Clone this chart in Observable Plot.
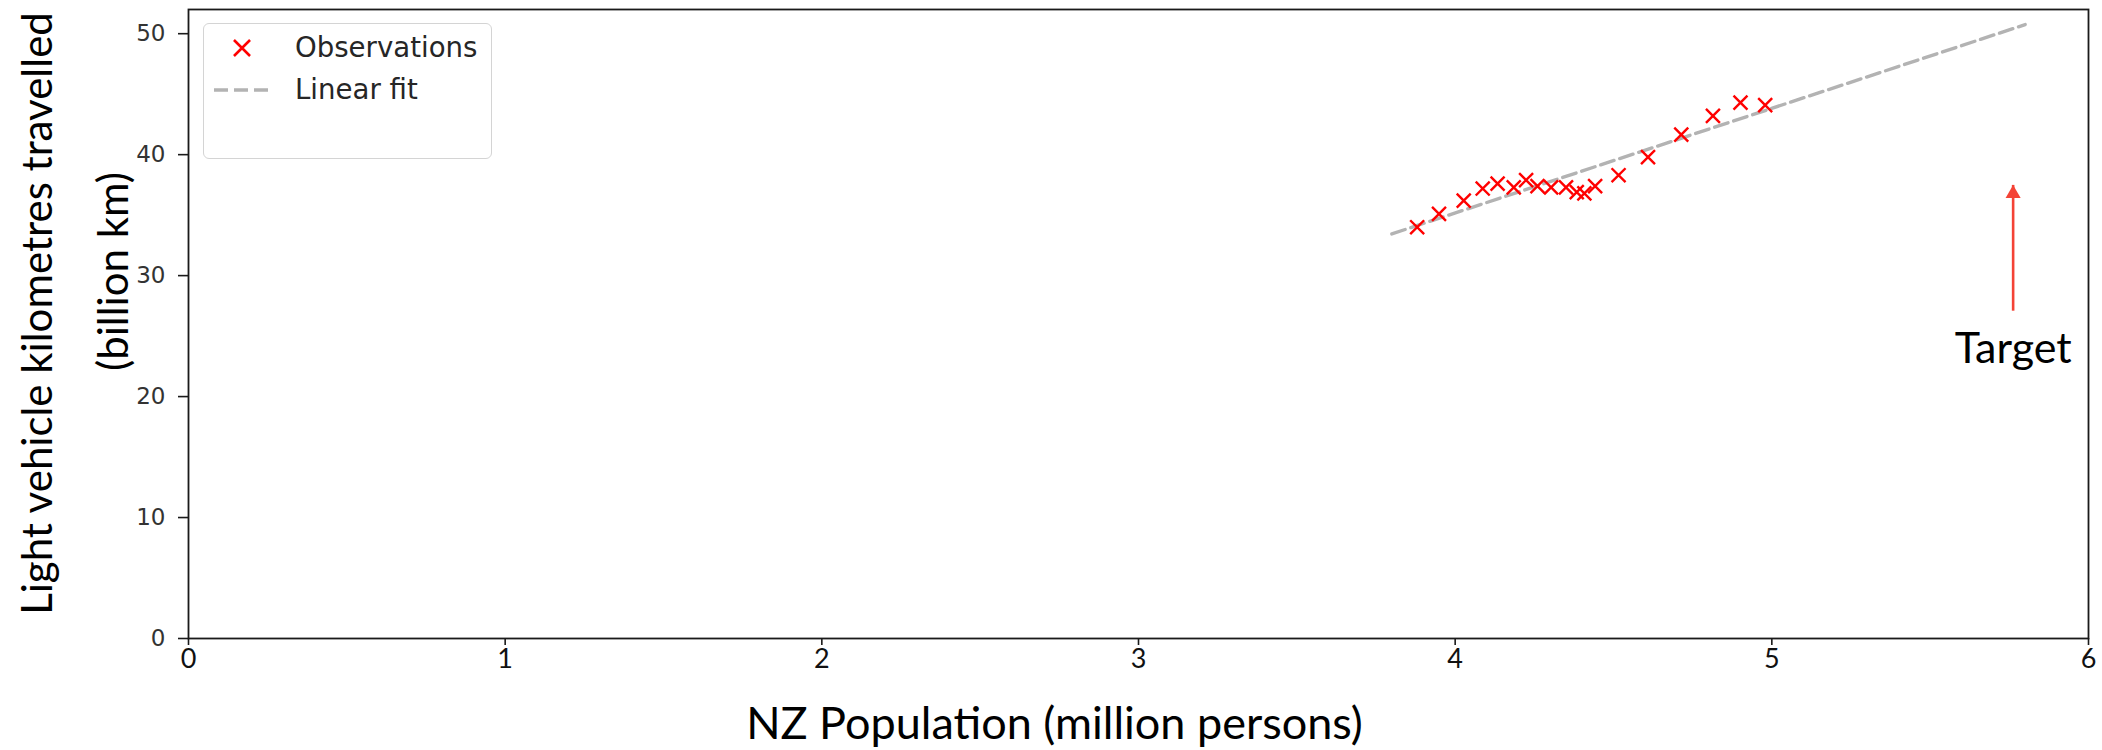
<!DOCTYPE html>
<html>
<head>
<meta charset="utf-8">
<script src="https://cdn.jsdelivr.net/npm/d3@7"></script>
<script src="https://cdn.jsdelivr.net/npm/@observablehq/plot@0.6"></script>
<style>
  html, body { margin: 0; padding: 0; background: #fff; }
  #wrap { position: relative; width: 2102px; height: 750px; overflow: hidden; }
  #legend { position: absolute; left: 203px; top: 23px; width: 289px; height: 136px;
            box-sizing: border-box; border: 1.6px solid #d4d4d4; border-radius: 6px; background: #fff; }
  #legend svg { position: absolute; left: 0; top: 0; }
</style>
</head>
<body>
<div id="wrap"></div>
<script>
// ---- data ----
const population = [3.880, 3.949, 4.027, 4.087, 4.134, 4.185, 4.224, 4.260, 4.303, 4.350,
                    4.384, 4.408, 4.442, 4.516, 4.609, 4.714, 4.814, 4.901, 4.979];
const vkt = [34.0, 35.1, 36.2, 37.2, 37.6, 37.3, 37.9, 37.4, 37.3, 37.3,
             36.9, 36.8, 37.4, 38.3, 39.8, 41.65, 43.2, 44.3, 44.1];
const fitX = [3.8, 5.8];
const fitY = [33.45, 50.75];
const xTicks = [0, 1, 2, 3, 4, 5, 6];
const yTicks = [0, 10, 20, 30, 40, 50];
const targetX = 5.762;
const targetY = [27.1, 37.5];
const targetLabel = "Target";
const xLabel = "NZ Population (million persons)";
const yLabelLines = ["Light vehicle kilometres travelled", "(billion km)"];
const legendLabels = ["Observations", "Linear fit"];

// ---- tables ----
const obs = population.map((p, i) => ({p, v: vkt[i]}));
const fit = fitX.map((x, i) => ({x, y: fitY[i]}));
const arrow = [{x: targetX, y1: targetY[0], y2: targetY[1], label: targetLabel}];

const labelFont = "Lato, 'Open Sans', sans-serif";

const chart = Plot.plot({
  width: 2102,
  height: 750,
  marginLeft: 188,
  marginRight: 14,
  marginTop: 9,
  marginBottom: 112,
  style: {background: "#fff", fontFamily: "'DejaVu Sans', sans-serif", fontSize: "23px", color: "#222", overflow: "visible"},
  x: {domain: [0, 6], label: null},
  y: {domain: [0, 52], label: null},
  marks: [
    Plot.line(fit, {x: "x", y: "y", stroke: "#b3b3b3", strokeWidth: 3.4, strokeDasharray: "14,6"}),
    Plot.dot(obs, {x: "p", y: "v", symbol: "times", r: 6.4, stroke: "#ff0000", strokeWidth: 2.4}),
    Plot.link(arrow, {x1: "x", x2: "x", y1: "y1", y2: "y2", stroke: "#f44336", strokeWidth: 2.6}),
    Plot.dot(arrow, {x: "x", y: "y2", symbol: "triangle", r: 5.6, fill: "#f44336", stroke: "none", dy: 8.7}),
    Plot.text(arrow, {x: "x", y: "y1", text: "label", lineAnchor: "top", dy: 22,
                      fontFamily: labelFont, fontSize: 43, fill: "#000"}),
    Plot.frame({stroke: "#1a1a1a", strokeWidth: 1.8}),
    Plot.axisX({ticks: xTicks, tickSize: 7, tickPadding: 3, label: null, tickFormat: d => String(d),
                fontFamily: labelFont, fontSize: 27, fill: "#111", stroke: "#1a1a1a", strokeWidth: 1.6}),
    Plot.axisY({ticks: yTicks, tickSize: 10, tickPadding: 13, label: null, tickFormat: d => String(d),
                fontFamily: "'DejaVu Sans', sans-serif", fontSize: 23, fill: "#333", stroke: "#1a1a1a", strokeWidth: 1.6}),
    Plot.text([xLabel], {frameAnchor: "bottom", text: d => d, dx: -84, dy: 100,
                         fontFamily: labelFont, fontSize: 45, fill: "#000"}),
    Plot.text([yLabelLines[0]], {frameAnchor: "left", text: d => d, rotate: -90, textAnchor: "middle",
                                 dx: -150, dy: -10.5, fontFamily: labelFont, fontSize: 42, fill: "#000"}),
    Plot.text([yLabelLines[1]], {frameAnchor: "left", text: d => d, rotate: -90, textAnchor: "middle",
                                 dx: -74, dy: -52.5, fontFamily: labelFont, fontSize: 42, fill: "#000"})
  ]
});

const wrap = document.getElementById("wrap");
wrap.appendChild(chart);

// ---- legend (inside the axes, top-left) ----
const legend = document.createElement("div");
legend.id = "legend";
wrap.appendChild(legend);
const ls = d3.select(legend).append("svg").attr("width", 289).attr("height", 136);
const lf = "'DejaVu Sans', sans-serif";
ls.append("path")
  .attr("d", d3.symbol(d3.symbolTimes, 170)())
  .attr("transform", "translate(38,24)")
  .attr("fill", "none").attr("stroke", "#ff0000").attr("stroke-width", 2.6);
ls.append("text").attr("x", 91).attr("y", 33).attr("font-family", lf).attr("font-size", 27.6)
  .attr("fill", "#262626").text(legendLabels[0]);
ls.append("line").attr("x1", 10).attr("x2", 67).attr("y1", 66).attr("y2", 66)
  .attr("stroke", "#b3b3b3").attr("stroke-width", 3.4).attr("stroke-dasharray", "14,6");
ls.append("text").attr("x", 91).attr("y", 75).attr("font-family", lf).attr("font-size", 27.6)
  .attr("fill", "#262626").text(legendLabels[1]);
</script>
</body>
</html>
